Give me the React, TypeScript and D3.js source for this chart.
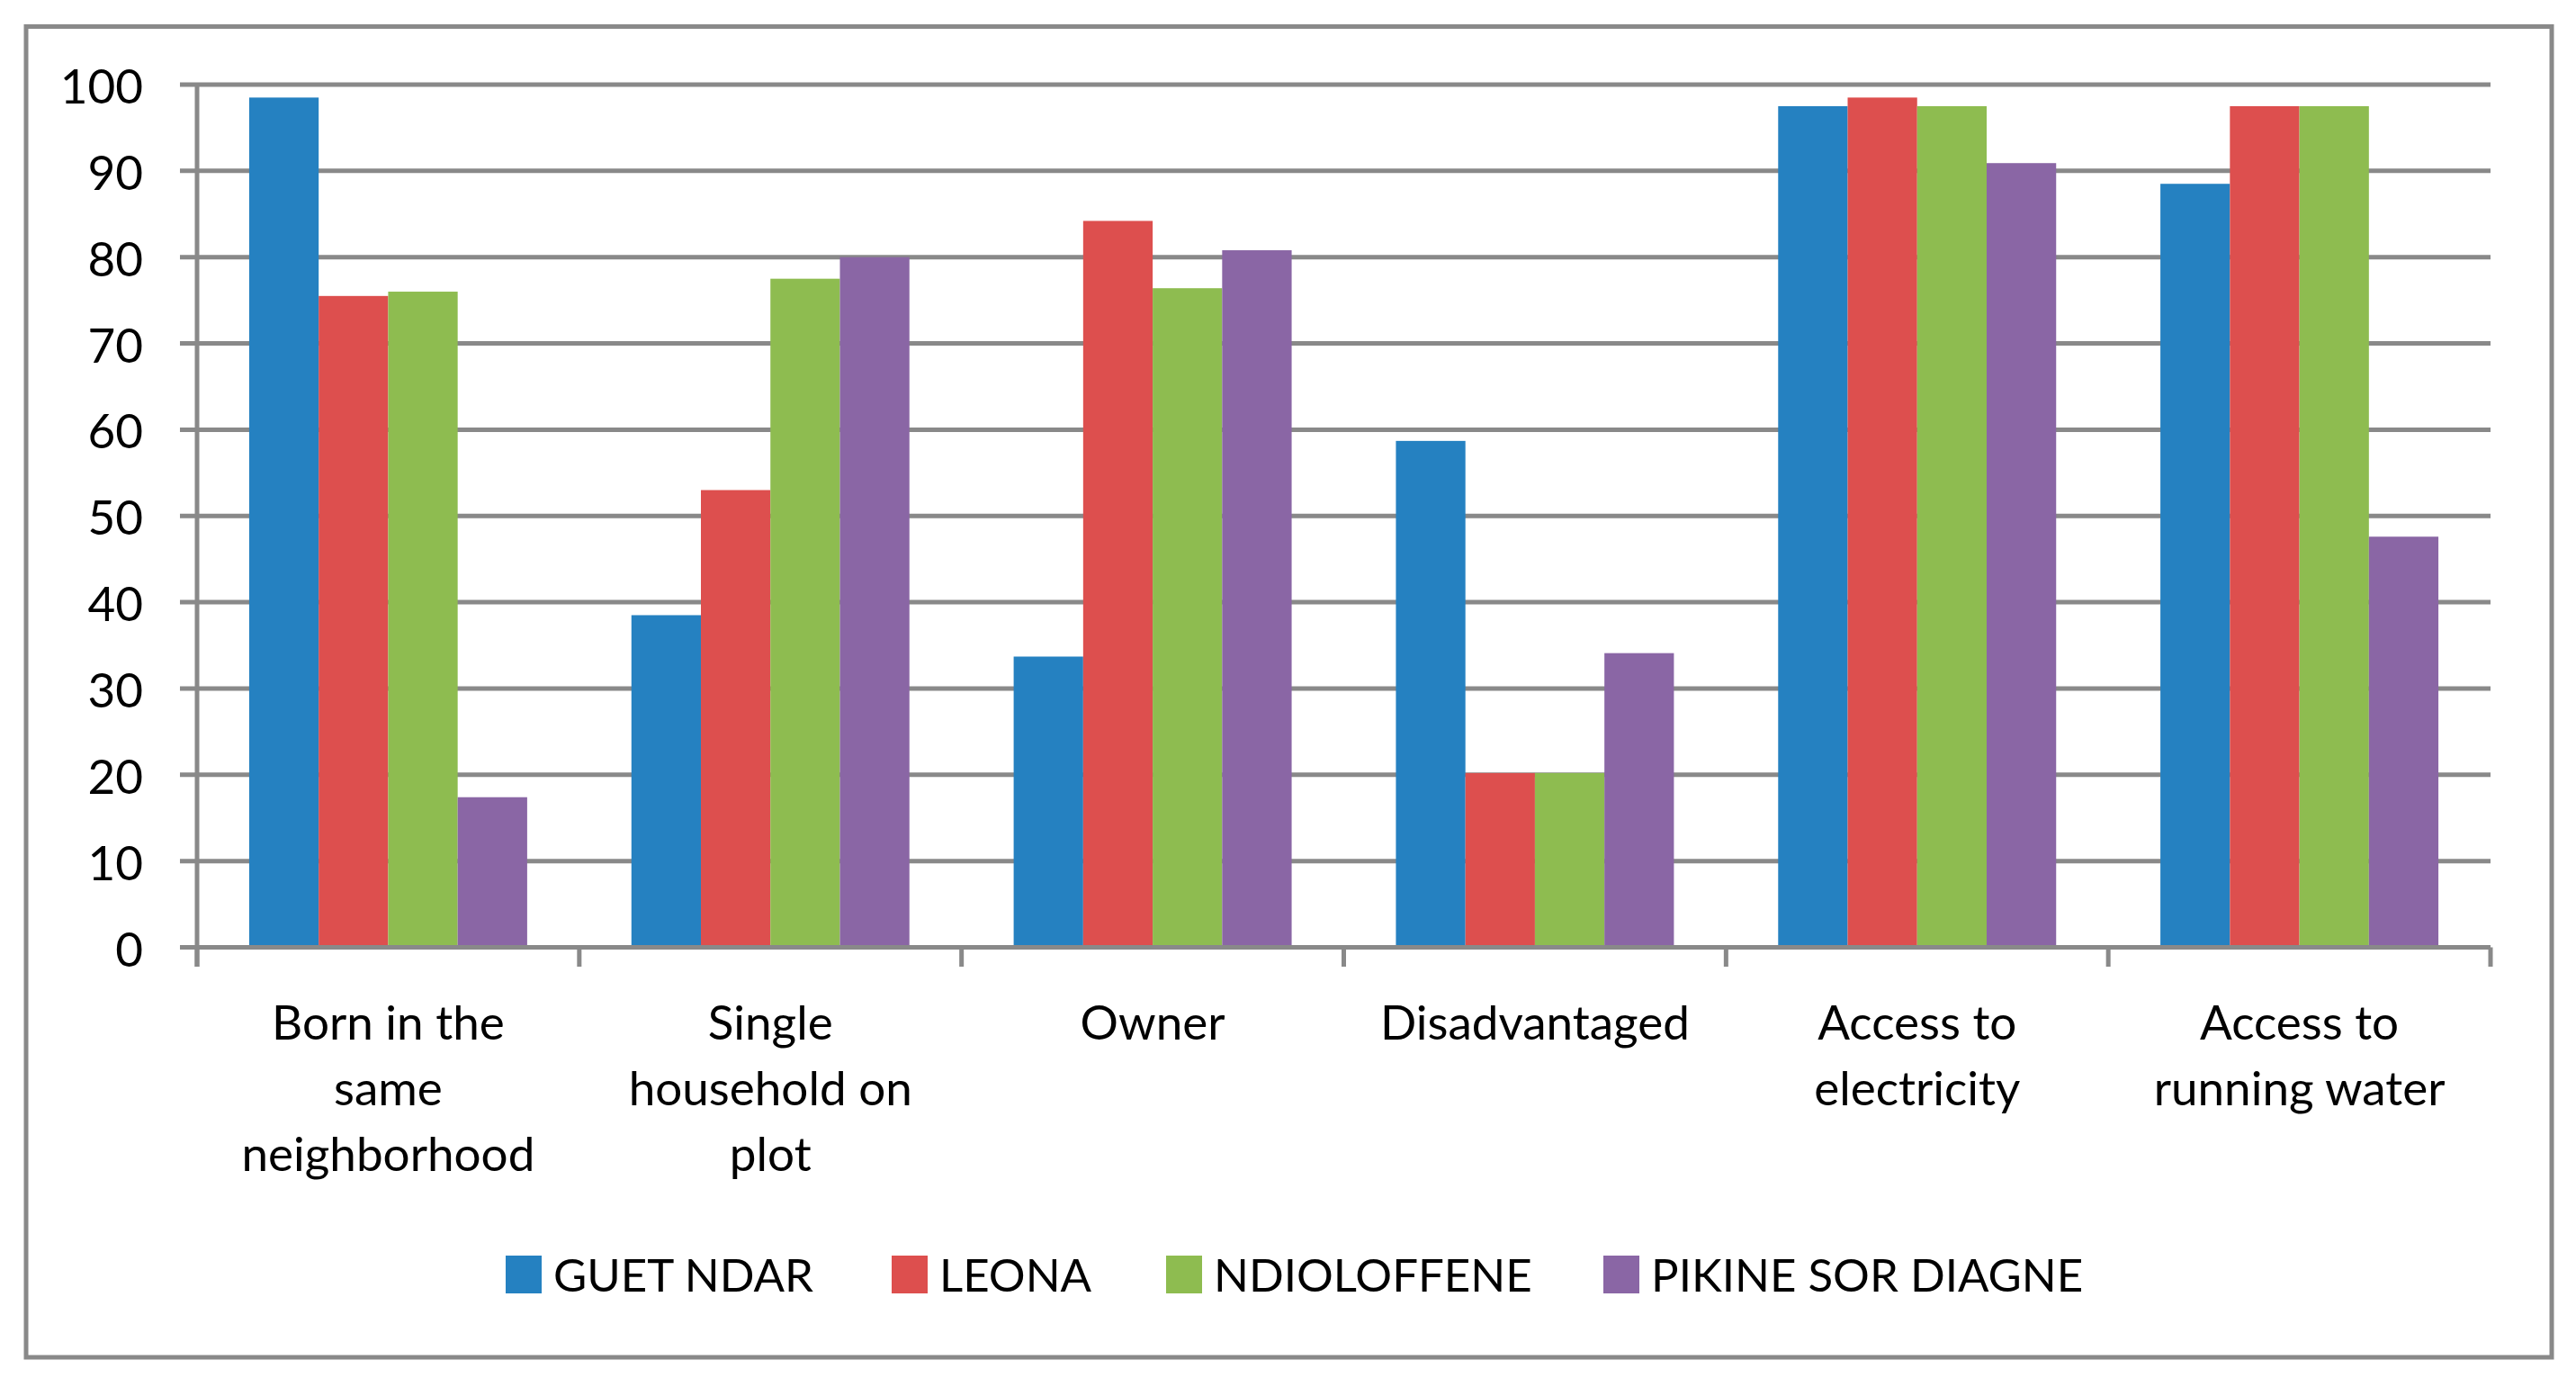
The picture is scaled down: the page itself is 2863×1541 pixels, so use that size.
import React from "react";
import * as d3 from "d3";

const categories = [
  "Born in the same neighborhood",
  "Single household on plot",
  "Owner",
  "Disadvantaged",
  "Access to electricity",
  "Access to running water",
];
const categoryLines = [
  ["Born in the", "same", "neighborhood"],
  ["Single", "household on", "plot"],
  ["Owner"],
  ["Disadvantaged"],
  ["Access to", "electricity"],
  ["Access to", "running water"],
];
const seriesNames = ["GUET NDAR", "LEONA", "NDIOLOFFENE", "PIKINE SOR DIAGNE"];
const guetNdar = [98.5, 38.5, 33.7, 58.7, 97.5, 88.5];
const leona = [75.5, 53, 84.2, 20.2, 98.5, 97.5];
const ndioloffene = [76, 77.5, 76.4, 20.2, 97.5, 97.5];
const pikine = [17.4, 80, 80.8, 34.1, 90.9, 47.6];
const seriesValues = [guetNdar, leona, ndioloffene, pikine];
const seriesColors = ["#2581c1", "#dd4f4e", "#8ebc50", "#8a66a5"];
const yTicks = [0, 10, 20, 30, 40, 50, 60, 70, 80, 90, 100];

const W = 2863;
const H = 1541;
const GRAY = "#898989";
const FONT = "Lato, 'Noto Sans', sans-serif";
const FS = 53;
const LEGEND_FS = 51;

const plotLeft = 219;
const plotRight = 2768;
const plotTop = 94;
const plotBottom = 1052.5;
const legendX = [562, 991, 1296, 1782];
const legendY = 1395;

export default function App() {
  const y = d3.scaleLinear().domain([0, 100]).range([plotBottom, plotTop]);
  const x0 = d3.scaleBand<string>().domain(categories).range([plotLeft, plotRight]).paddingInner(0).paddingOuter(0);
  const x1 = d3
    .scaleBand<string>()
    .domain(seriesNames)
    .range([0, x0.bandwidth()])
    .paddingInner(0)
    .paddingOuter(0.75);
  const boundaries = categories.map((c) => x0(c) as number).concat([plotRight]);

  return (
    <svg
      width={W}
      height={H}
      style={{ position: "fixed", left: 0, top: 0, background: "#fff" }}
      fontFamily={FONT}
    >
      <rect x={0} y={0} width={W} height={H} fill="#fff" />
      <rect x={29} y={29.5} width={2836 - 29} height={1508 - 29.5} fill="none" stroke={GRAY} strokeWidth={5} />
      {yTicks.map((t) => (
        <line key={"g" + t} x1={200} x2={plotRight} y1={y(t)} y2={y(t)} stroke={GRAY} strokeWidth={5} />
      ))}
      {categories.map((c, ci) => (
        <g key={c}>
          {seriesNames.map((s, si) => {
            const v = seriesValues[si][ci];
            return (
              <rect
                key={s}
                x={(x0(c) as number) + (x1(s) as number)}
                y={y(v)}
                width={x1.bandwidth()}
                height={y(0) - y(v)}
                fill={seriesColors[si]}
              />
            );
          })}
        </g>
      ))}
      <line x1={200} x2={plotRight} y1={y(0)} y2={y(0)} stroke={GRAY} strokeWidth={5} />
      <line x1={plotLeft} x2={plotLeft} y1={plotTop - 2} y2={1074} stroke={GRAY} strokeWidth={5} />
      {boundaries.map((b, i) => (
        <line key={"t" + i} x1={b} x2={b} y1={y(0)} y2={1074} stroke={GRAY} strokeWidth={5} />
      ))}
      {yTicks.map((t) => (
        <text key={"l" + t} x={159} y={y(t) + 21} textAnchor="end" fontSize={FS} fill="#000">
          {t}
        </text>
      ))}
      {categories.map((c, ci) => (
        <text key={"c" + c} textAnchor="middle" fontSize={FS} fill="#000">
          {categoryLines[ci].map((ln, li) => (
            <tspan key={li} x={(x0(c) as number) + x0.bandwidth() / 2} y={1155 + li * 73}>
              {ln}
            </tspan>
          ))}
        </text>
      ))}
      {seriesNames.map((s, si) => (
        <g key={"lg" + s}>
          <rect x={legendX[si]} y={legendY} width={40} height={42} fill={seriesColors[si]} />
          <text x={legendX[si] + 53} y={legendY + 40} fontSize={LEGEND_FS} fill="#000">
            {s}
          </text>
        </g>
      ))}
    </svg>
  );
}
